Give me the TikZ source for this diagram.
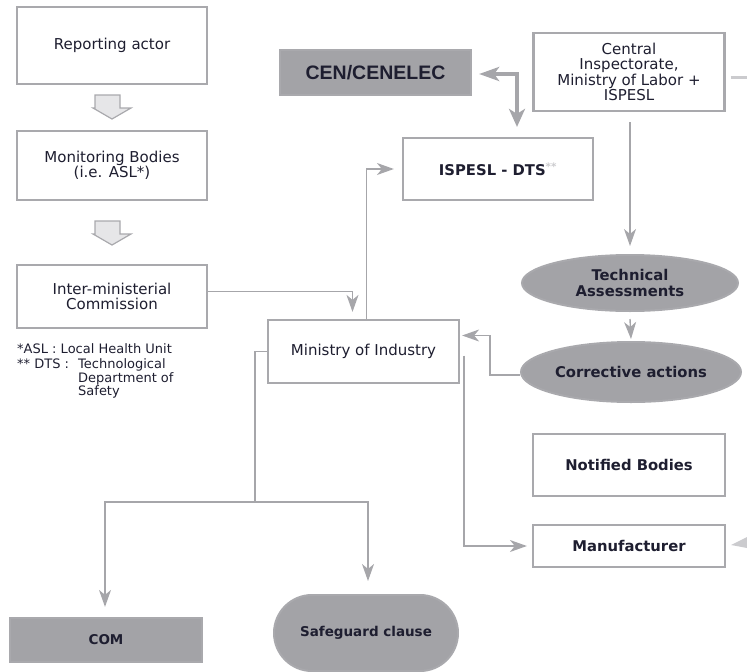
\documentclass[tikz,border=0pt]{standalone}
\usepackage{fontspec}
\setmainfont{DejaVu Sans}
\newfontfamily\cenfont{Liberation Sans}
\usetikzlibrary{arrows.meta,shapes.geometric,shapes.misc}
\definecolor{bordc}{HTML}{A9A9AD}
\definecolor{fillc}{HTML}{A3A3A7}
\definecolor{linec}{HTML}{A6A6AA}
\definecolor{txt}{HTML}{1E1E30}
\definecolor{fragc}{HTML}{CBCBCE}
\definecolor{hollowfill}{HTML}{E6E6E8}
\newcommand{\fsreg}{\fontsize{15}{15.5}\selectfont}
\newcommand{\fsbold}{\fontsize{14.8}{15.5}\selectfont\bfseries}
\newcommand{\fssmall}{\fontsize{13.5}{15}\selectfont\bfseries}
\begin{document}
\begin{tikzpicture}[x=1pt,y=-1pt,
  box/.style={draw=bordc, line width=2.2pt, fill=white, text=txt, align=center, font=\fsreg, inner sep=0pt},
  bbox/.style={box, font=\fsbold},
  gbox/.style={box, fill=fillc},
  oval/.style={ellipse, draw=bordc, line width=2pt, fill=fillc, text=txt, align=center, font=\fsbold, inner sep=0pt},
  conn/.style={draw=linec, line width=1.4pt},
  arr/.style={-{Stealth[length=17pt,width=12pt,inset=5pt]}},
  dbl/.style={draw=linec, line width=4pt, {Stealth[length=20pt,width=14pt,inset=5pt]}-{Stealth[length=18pt,width=16pt,inset=5pt]}},
  hollow/.style={draw=bordc, line width=1.2pt, fill=hollowfill},
  foot/.style={text=txt, font=\fontsize{13}{14}\selectfont, inner sep=0pt, anchor=base west}
]
\useasboundingbox (0,0) rectangle (747,672);

% boxes
\node[box, minimum width=190pt, minimum height=77pt] (rep) at (112,45.5) {Reporting actor};
\node[box, minimum width=190pt, minimum height=69pt] (mon) at (112,165.5) {Monitoring Bodies\\(i.e. ASL*)};
\node[box, minimum width=190pt, minimum height=63pt] (imc) at (112,296.5) {Inter-ministerial\\Commission};
\node[gbox, minimum width=191pt, minimum height=45pt, font=\cenfont\bfseries\fontsize{19.5}{20}\selectfont] (cen) at (375.5,72.5) {CEN/CENELEC};
\node[box, minimum width=191pt, minimum height=78pt] (cip) at (629,72) {Central\\Inspectorate,\\Ministry of Labor +\\ISPESL};
\node[bbox, minimum width=190pt, minimum height=62pt] (isp) at (498,169) {ISPESL - DTS\textsuperscript{\color{fragc}**}};
\node[box, minimum width=191pt, minimum height=63pt] (moi) at (363.5,351.5) {Ministry of Industry};
\node[oval, minimum width=216pt, minimum height=56pt] (ta) at (630,283) {Technical\\Assessments};
\node[oval, minimum width=220pt, minimum height=60pt] (ca) at (631,372) {Corrective actions};
\node[bbox, minimum width=192pt, minimum height=62pt] (nb) at (629,465) {Notified Bodies};
\node[bbox, minimum width=192pt, minimum height=42pt] (man) at (629,546) {Manufacturer};
\node[gbox, minimum width=192pt, minimum height=44pt, font=\fssmall] (com) at (106,640) {COM};
\node[rounded rectangle, draw=bordc, line width=2pt, fill=fillc, text=txt, font=\fssmall, minimum width=184pt, minimum height=76pt, inner sep=0pt] (sg) at (366,633) {Safeguard clause};

% footnotes
\node[foot] (f1) at (17,353.5) {*ASL : Local Health Unit};
\node[foot] (f2) at (17,368.5) {** DTS :};
\node[foot] (f3) at (78,368.5) {Technological};
\node[foot] (f4) at (78,382.5) {Department of};
\node[foot] (f5) at (78,395.5) {Safety};

% hollow block arrows
\draw[hollow] (95,95) -- (120,95) -- (120,108) -- (131,108) -- (112,119) -- (93,108) -- (95,108) -- cycle;
\draw[hollow] (95,221) -- (120,221) -- (120,234) -- (131,234) -- (112,245) -- (93,234) -- (95,234) -- cycle;

% connectors
\draw[dbl] ([xshift=7pt,yshift=-1.5pt]cen.east) -| ([xshift=19pt,yshift=10pt]isp.north);
\draw[conn,arr] ([xshift=3pt]moi.north) |- ([xshift=-8pt]isp.west);
\draw[conn,arr] ([yshift=5pt]imc.east) -| ([xshift=-11pt,yshift=7pt]moi.north);
\draw[conn,arr] ([xshift=1pt,yshift=-10pt]cip.south) -- ([yshift=8pt]ta.north);
\draw[conn,arr] ([yshift=-7pt]ta.south) -- ([yshift=2pt]ca.north);
\draw[conn,arr] ([yshift=-3pt]ca.west) -- ++(-30,0) |- ([xshift=2pt,yshift=16pt]moi.east);
\draw[conn,arr] ([xshift=4pt,yshift=-4pt]moi.east) |- ([xshift=-5pt]man.west);
\coordinate (br) at (255,502);
\draw[conn] (moi.west) -| (br);
\draw[conn,arr] (br) -| ([xshift=-1pt,yshift=10pt]com.north);
\draw[conn,arr] (br) -| ([xshift=2pt,yshift=13pt]sg.north);

% cut-off fragments at right edge
\coordinate (cipout) at (747,77);
\draw[draw=fragc, line width=3pt] ([xshift=5pt,yshift=-5pt]cip.east) -- (cipout);
\coordinate (manin) at (747,537);
\fill[fragc] ([xshift=5pt,yshift=1pt]man.east) -- (manin) -- (747,548) -- cycle;
\end{tikzpicture}
\end{document}
